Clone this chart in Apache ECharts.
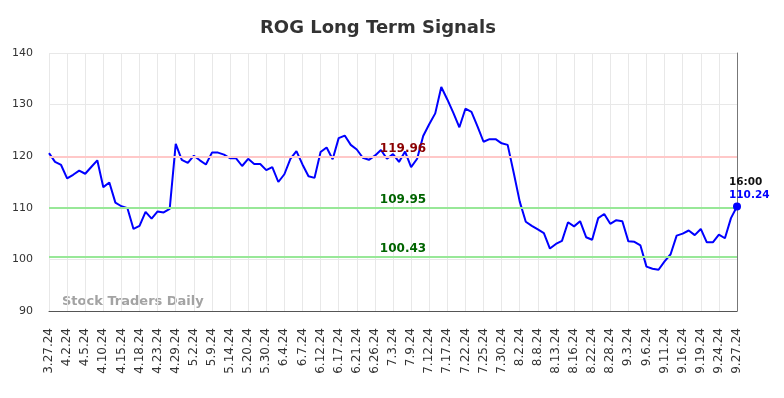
<!DOCTYPE html>
<html>
<head>
<meta charset="UTF-8">
<title>ROG Long Term Signals</title>
<script src="https://cdn.jsdelivr.net/npm/echarts@6/dist/echarts.min.js"></script>
<style>
  html, body { margin: 0; padding: 0; background: #fff; }
  #chart { width: 784px; height: 398px; }
</style>
</head>
<body>
<div id="chart"></div>
<script type="text/javascript">
	// dates (one per point, every 3rd one is shown on the axis)
	var dates = [
		'3.27.24','3.28.24','4.1.24','4.2.24','4.3.24','4.4.24','4.5.24','4.8.24','4.9.24','4.10.24',
		'4.11.24','4.12.24','4.15.24','4.16.24','4.17.24','4.18.24','4.19.24','4.22.24','4.23.24','4.25.24',
		'4.26.24','4.29.24','4.30.24','5.1.24','5.2.24','5.6.24','5.8.24','5.9.24','5.10.24','5.13.24',
		'5.14.24','5.15.24','5.17.24','5.20.24','5.23.24','5.28.24','5.30.24','5.31.24','6.3.24','6.4.24',
		'6.5.24','6.6.24','6.7.24','6.10.24','6.11.24','6.12.24','6.13.24','6.14.24','6.17.24','6.18.24',
		'6.20.24','6.21.24','6.24.24','6.25.24','6.26.24','6.28.24','7.1.24','7.3.24','7.5.24','7.8.24',
		'7.9.24','7.10.24','7.11.24','7.12.24','7.15.24','7.16.24','7.17.24','7.18.24','7.19.24','7.22.24',
		'7.23.24','7.24.24','7.25.24','7.26.24','7.29.24','7.30.24','7.31.24','8.1.24','8.2.24','8.5.24',
		'8.7.24','8.8.24','8.9.24','8.12.24','8.13.24','8.14.24','8.15.24','8.16.24','8.19.24','8.21.24',
		'8.22.24','8.26.24','8.27.24','8.28.24','8.29.24','8.30.24','9.3.24','9.4.24','9.5.24','9.6.24',
		'9.9.24','9.10.24','9.11.24','9.12.24','9.13.24','9.16.24','9.17.24','9.18.24','9.19.24','9.20.24',
		'9.23.24','9.24.24','9.25.24','9.26.24','9.27.24'
	];
	// closing prices
	var prices = [
		120.6,118.9,118.3,115.7,116.4,117.2,116.6,117.9,119.2,114.0,
		114.9,111.0,110.3,109.9,105.9,106.5,109.2,107.9,109.3,109.1,
		109.8,122.4,119.3,118.7,120.1,119.2,118.4,120.7,120.7,120.3,
		119.6,119.6,118.1,119.5,118.5,118.5,117.3,117.9,115.0,116.5,
		119.5,121.0,118.4,116.1,115.8,120.8,121.7,119.4,123.5,124.0,
		122.2,121.3,119.7,119.3,120.1,121.2,119.5,120.4,118.9,120.9,
		117.9,119.5,123.9,126.2,128.3,133.4,131.0,128.4,125.6,129.2,
		128.6,125.8,122.8,123.3,123.3,122.5,122.2,116.8,111.2,107.3,
		106.5,105.8,105.1,102.1,103.0,103.6,107.2,106.4,107.4,104.3,
		103.8,108.0,108.8,106.9,107.6,107.4,103.5,103.4,102.7,98.6,
		98.2,98.0,99.6,101.0,104.6,105.0,105.6,104.7,105.9,103.3,
		103.3,104.8,104.1,108.0,110.24
	];
	// signal levels
	var levels = [119.96, 109.95, 100.43];
	var levelLine = ['#ffc8c8', '#98e898', '#98e898'];
	var levelText = ['#8b0000', '#006400', '#006400'];
	var lastTime = '16:00';
	var yTicks = [90, 100, 110, 120, 130, 140];

	var last = prices.length - 1;
	var lineData = [];
	for (var i = 0; i < levels.length; i++) {
		lineData.push({
			yAxis: levels[i]
			,lineStyle: { color: levelLine[i], width: 2, type: 'solid' }
			,label: { color: levelText[i] }
		});
	}

	var chart = echarts.init(document.getElementById('chart'));
	var option = {
		animation: false,
		title: {
			text: 'ROG Long Term Signals'
			,left: 255
			,top: 14
			,textStyle: { fontFamily: 'DejaVu Sans', fontSize: 18, fontWeight: 'bold', color: '#333' }
		},
		graphic: [{
			type: 'text'
			,left: 62
			,top: 295
			,style: { text: 'Stock Traders Daily', font: 'bold 13px "DejaVu Sans"', fill: '#a3a3a3' }
		}],
		grid: { left: 49, right: 47, top: 53, bottom: 87 },
		xAxis: {
			type: 'category'
			,data: dates
			,boundaryGap: false
			,axisLine: { lineStyle: { color: '#555' } }
			,axisTick: { show: false }
			,axisLabel: {
				interval: 2
				,rotate: 90
				,margin: 17
				,fontFamily: 'DejaVu Sans'
				,fontSize: 12
				,color: '#333'
			}
			,splitLine: { show: true, interval: 2, lineStyle: { color: '#e8e8e8' } }
		},
		yAxis: [{
			type: 'value'
			,min: yTicks[0]
			,max: yTicks[yTicks.length - 1]
			,interval: 10
			,axisLine: { show: false }
			,axisTick: { show: false }
			,axisLabel: { margin: 16, fontFamily: 'DejaVu Sans', fontSize: 11, color: '#333' }
			,splitLine: { lineStyle: { color: '#e8e8e8' } }
		},{
			type: 'value'
			,position: 'right'
			,min: yTicks[0]
			,max: yTicks[yTicks.length - 1]
			,interval: 10
			,axisLine: { show: true, lineStyle: { color: '#777' } }
			,axisTick: { show: false }
			,axisLabel: { show: false }
			,splitLine: { show: false }
		}],
		series: [{
			name: 'ROG'
			,type: 'line'
			,data: prices
			,symbol: 'none'
			,lineStyle: { color: '#0000ff', width: 2 }
			,markLine: {
				silent: true
				,symbol: ['none', 'none']
				,label: {
					position: 'insideMiddleTop'
					,distance: 2
					,padding: [0, 0, 0, 20]
					,fontFamily: 'DejaVu Sans'
					,fontSize: 12
					,fontWeight: 'bold'
				}
				,data: lineData
			}
			,markPoint: {
				silent: true
				,symbol: 'circle'
				,symbolSize: 8
				,itemStyle: { color: '#0000ff' }
				,label: {
					show: true
					,position: [-4, -27]
					,align: 'left'
					,verticalAlign: 'top'
					,formatter: '{t|' + lastTime + '}\n{v|' + prices[last] + '}'
					,rich: {
						t: { fontFamily: 'DejaVu Sans', fontSize: 10.5, fontWeight: 'bold', color: '#111', lineHeight: 13 }
						,v: { fontFamily: 'DejaVu Sans', fontSize: 10.5, fontWeight: 'bold', color: '#0000ff', lineHeight: 13 }
					}
				}
				,data: [{ coord: [last, prices[last]], value: prices[last] }]
			}
		}]
	};
	chart.setOption(option);
</script>
</body>
</html>
